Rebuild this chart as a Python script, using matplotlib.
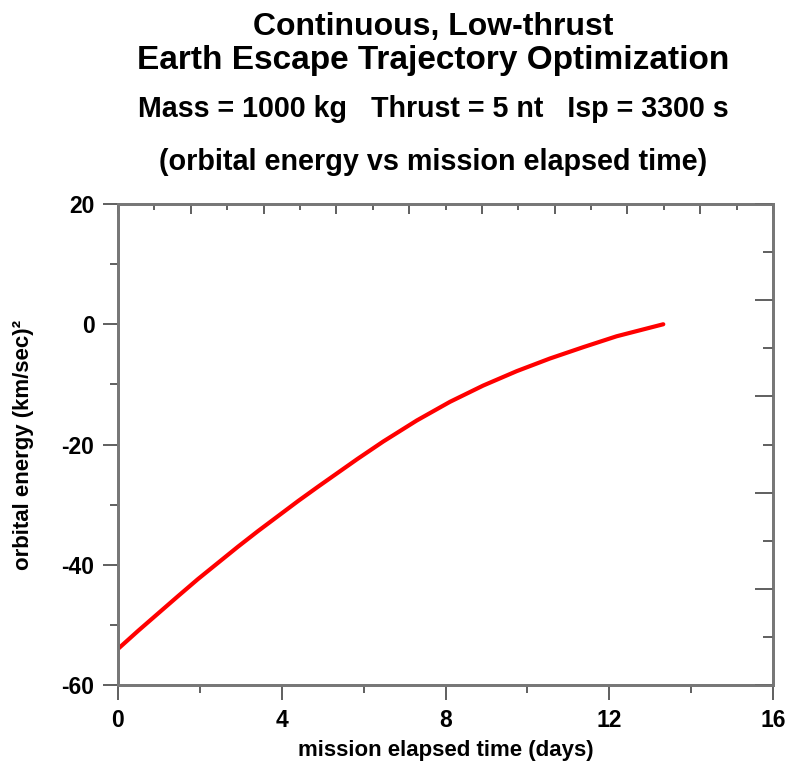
import numpy as np
import matplotlib
matplotlib.use("Agg")
import matplotlib.pyplot as plt

plt.rcParams['font.family'] = ['Liberation Sans', 'DejaVu Sans']
plt.rcParams['font.weight'] = 'bold'
plt.rcParams['axes.unicode_minus'] = False

# mission elapsed time (days) and orbital energy (km/sec)^2
days = [0.0, 0.49, 0.98, 1.47, 1.95, 2.44, 2.93, 3.42, 3.91, 4.40, 4.89,
        5.37, 5.85, 6.48, 7.30, 8.11, 8.92, 9.74, 10.55, 11.37, 12.18, 13.32]
energy = [-54.0, -51.0, -48.1, -45.2, -42.4, -39.7, -37.0, -34.4, -31.9,
          -29.4, -27.0, -24.7, -22.4, -19.5, -16.0, -12.9, -10.2, -7.8,
          -5.7, -3.8, -2.0, 0.0]

x_ticks = [0, 4, 8, 12, 16]
y_ticks = [-60, -40, -20, 0, 20]

title_lines = ["Continuous, Low-thrust",
               "Earth Escape Trajectory Optimization"]
subtitle = "Mass = 1000 kg   Thrust = 5 nt   Isp = 3300 s"
subtitle2 = "(orbital energy vs mission elapsed time)"


def main():
    fig = plt.figure(figsize=(7.9, 7.62), dpi=100)
    ax = fig.add_axes([118 / 790, 77 / 762, 655 / 790, 481 / 762])

    ax.plot(days, energy, color='red', linewidth=3, solid_capstyle='round')

    ax.set_xlim(0, 16)
    ax.set_ylim(-60, 20)
    ax.set_xticks(x_ticks)
    ax.set_yticks(y_ticks)
    ax.set_xticks([2, 6, 10, 14], minor=True)
    ax.set_yticks([-50, -30, -10, 10], minor=True)
    ax.tick_params(which='major', direction='out', length=11, width=1.2,
                   color='#444444', labelsize=16.5, pad=6)
    ax.tick_params(which='minor', direction='out', length=6, width=1.2,
                   color='#444444')
    for lbl in ax.get_xticklabels() + ax.get_yticklabels():
        lbl.set_fontweight('bold')

    for sp in ax.spines.values():
        sp.set_color('#777777')
        sp.set_linewidth(1.8)

    # top scale: nine divisions, inward ticks, no labels
    top = ax.twiny()
    top.set_xlim(0, 16)
    top.set_xticks(np.linspace(0, 16, 10))
    top.set_xticks(np.linspace(0, 16, 19), minor=True)
    top.tick_params(which='major', direction='in', length=7, width=1.2,
                    color='#444444', labeltop=False)
    top.tick_params(which='minor', direction='in', length=4, width=1.2,
                    color='#444444')

    # right scale: five divisions, inward ticks, no labels
    right = ax.twinx()
    right.set_ylim(-60, 20)
    right.set_yticks(np.linspace(-60, 20, 6))
    right.set_yticks(np.linspace(-60, 20, 11), minor=True)
    right.tick_params(which='major', direction='in', length=13, width=1.2,
                      color='#444444', labelright=False)
    right.tick_params(which='minor', direction='in', length=7, width=1.2,
                      color='#444444')
    for a in (top, right):
        for sp in a.spines.values():
            sp.set_color('#777777')
            sp.set_linewidth(1.8)

    ax.set_xlabel("mission elapsed time (days)", fontsize=16,
                  fontweight='bold', labelpad=6)
    ax.set_ylabel("orbital energy (km/sec)²", fontsize=16,
                  fontweight='bold', labelpad=20)

    cx = 433 / 790
    fig.text(cx, 1 - 35 / 762, title_lines[0], ha='center', va='baseline',
             fontsize=23, fontweight='bold')
    fig.text(cx, 1 - 68.5 / 762, title_lines[1], ha='center', va='baseline',
             fontsize=24, fontweight='bold')
    fig.text(cx, 1 - 117 / 762, subtitle, ha='center', va='baseline',
             fontsize=20.6, fontweight='bold')
    fig.text(cx, 1 - 170 / 762, subtitle2, ha='center', va='baseline',
             fontsize=20.7, fontweight='bold')

    fig.savefig("out.png", dpi=100)


if __name__ == "__main__":
    main()
